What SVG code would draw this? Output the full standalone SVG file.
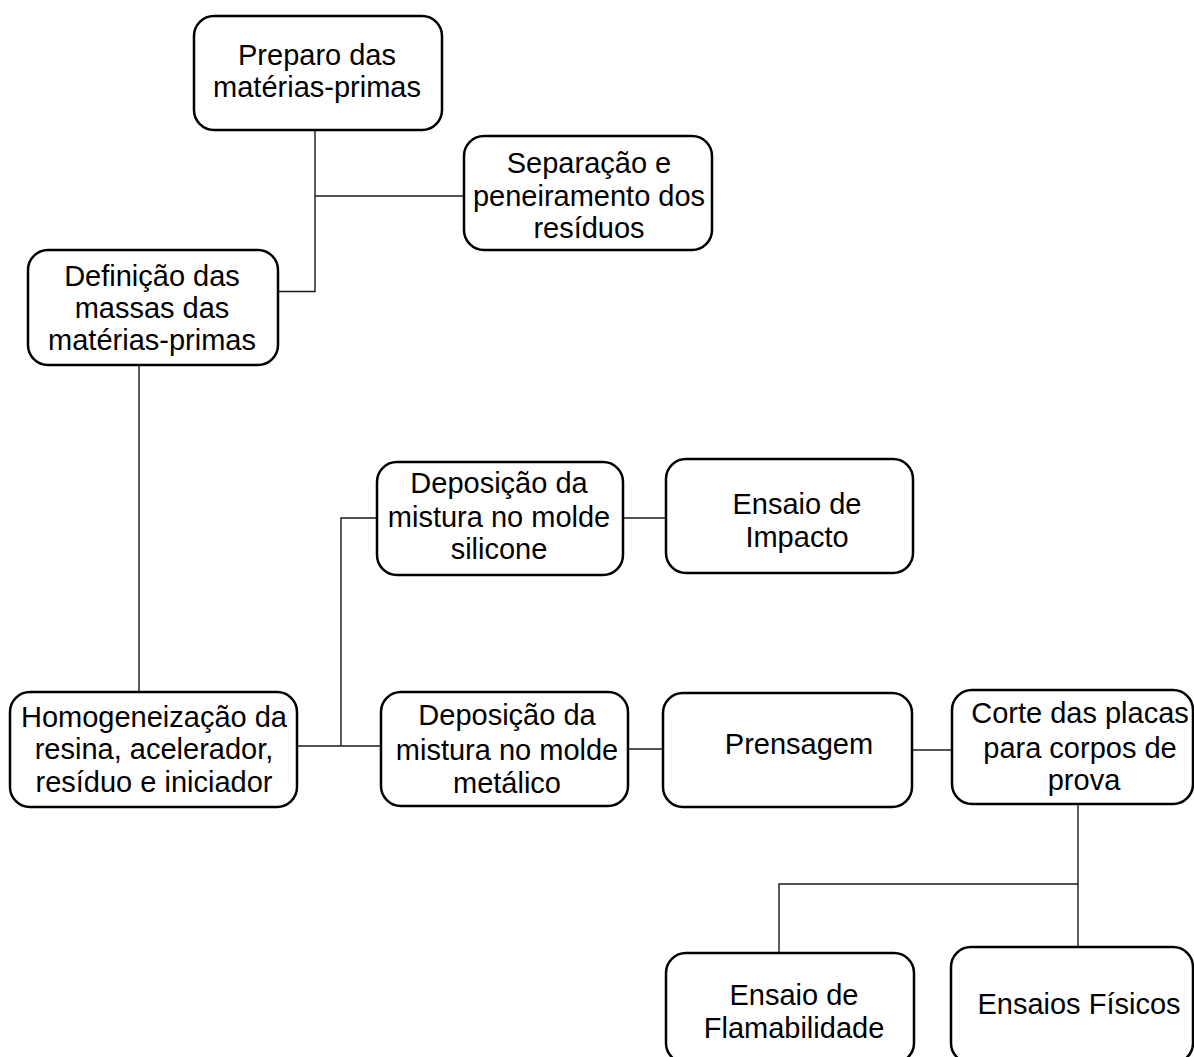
<svg xmlns="http://www.w3.org/2000/svg" width="1194" height="1057" viewBox="0 0 1194 1057">
<style>
.box{fill:#fff;stroke:#000;stroke-width:2.5}
.t{font-family:"Liberation Sans",Arial,sans-serif;font-size:29px;fill:#000;text-anchor:middle}
.c{fill:none;stroke:#1a1a1a;stroke-width:1.4}
</style>
<rect width="1194" height="1057" fill="#fff"/>
<g id="connectors">
<polyline class="c" points="315,130 315,291.5 278,291.5"/>
<line class="c" x1="315" y1="196" x2="464" y2="196"/>
<line class="c" x1="139" y1="365" x2="139" y2="692"/>
<line class="c" x1="297" y1="746" x2="381" y2="746"/>
<polyline class="c" points="341,746 341,518 377,518"/>
<line class="c" x1="623" y1="518" x2="666" y2="518"/>
<line class="c" x1="628" y1="749" x2="663" y2="749"/>
<line class="c" x1="912" y1="750" x2="952" y2="750"/>
<line class="c" x1="1078" y1="804" x2="1078" y2="947"/>
<polyline class="c" points="1078,884 779,884 779,953"/>
</g>
<g id="n1"><rect class="box" x="194" y="16" width="248" height="114" rx="20"/>
<text class="t" x="317" y="65">Preparo das</text><text class="t" x="317" y="97">matérias-primas</text></g>
<g id="n2"><rect class="box" x="464" y="136" width="248" height="114" rx="20"/>
<text class="t" x="589" y="173">Separação e</text><text class="t" x="589" y="206">peneiramento dos</text><text class="t" x="589" y="238">resíduos</text></g>
<g id="n3"><rect class="box" x="28" y="250" width="250" height="115" rx="20"/>
<text class="t" x="152" y="286">Definição das</text><text class="t" x="152" y="318">massas das</text><text class="t" x="152" y="350">matérias-primas</text></g>
<g id="n4"><rect class="box" x="10" y="692" width="287" height="115" rx="20"/>
<text class="t" x="154" y="727">Homogeneização da</text><text class="t" x="154" y="759">resina, acelerador,</text><text class="t" x="154" y="792">resíduo e iniciador</text></g>
<g id="n5"><rect class="box" x="377" y="462" width="246" height="113" rx="20"/>
<text class="t" x="499" y="493">Deposição da</text><text class="t" x="499" y="527">mistura no molde</text><text class="t" x="499" y="559">silicone</text></g>
<g id="n6"><rect class="box" x="666" y="459" width="247" height="114" rx="20"/>
<text class="t" x="797" y="514">Ensaio de</text><text class="t" x="797" y="547">Impacto</text></g>
<g id="n7"><rect class="box" x="381" y="692" width="247" height="114" rx="20"/>
<text class="t" x="507" y="725">Deposição da</text><text class="t" x="507" y="760">mistura no molde</text><text class="t" x="507" y="793">metálico</text></g>
<g id="n8"><rect class="box" x="663" y="693" width="249" height="114" rx="20"/>
<text class="t" x="799" y="754">Prensagem</text></g>
<g id="n9"><rect class="box" x="952" y="690" width="241" height="114" rx="20"/>
<text class="t" x="1080" y="723">Corte das placas</text><text class="t" x="1080" y="758">para corpos de</text><text class="t" x="1084" y="790">prova</text></g>
<g id="n10"><rect class="box" x="666" y="953" width="248" height="110" rx="20"/>
<text class="t" x="794" y="1005">Ensaio de</text><text class="t" x="794" y="1038">Flamabilidade</text></g>
<g id="n11"><rect class="box" x="951" y="947" width="242" height="116" rx="20"/>
<text class="t" x="1079" y="1014">Ensaios Físicos</text></g>
</svg>
